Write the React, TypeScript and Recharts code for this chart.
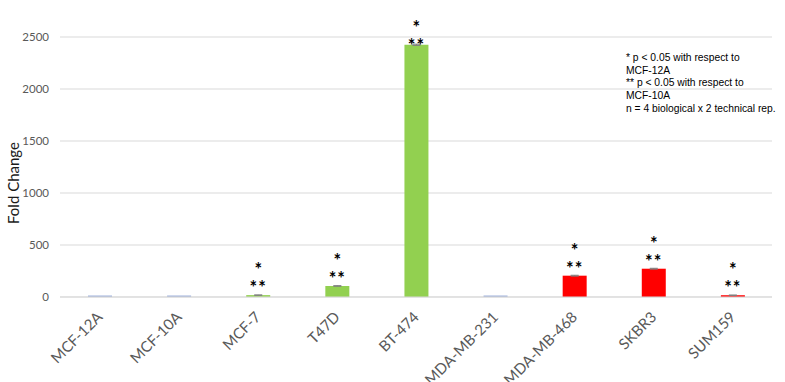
import React, { useLayoutEffect } from 'react';
import { BarChart, Bar, XAxis, YAxis, CartesianGrid, Cell, ErrorBar, LabelList, Label } from 'recharts';

const cellLines = ['MCF-12A', 'MCF-10A', 'MCF-7', 'T47D', 'BT-474', 'MDA-MB-231', 'MDA-MB-468', 'SKBR3', 'SUM159'];
const foldChange = [1, 1, 18, 106, 2425, 2, 205, 272, 17];
const errors = [0, 0, 2, 3, 6, 0, 4, 4, 2];
const groups = ['normal', 'normal', 'luminal', 'luminal', 'luminal', 'basal', 'basal', 'basal', 'basal'];
const sigVsMCF12A = [false, false, true, true, true, false, true, true, true];
const sigVsMCF10A = [false, false, true, true, true, false, true, true, true];
const yTicks = [0, 500, 1000, 1500, 2000, 2500];
const noteLines = [
  '* p < 0.05 with respect to',
  'MCF-12A',
  '** p < 0.05 with respect to',
  'MCF-10A',
  'n = 4 biological x 2 technical rep.',
];

const colorFor = (g: string, i: number) => {
  if (g === 'luminal') return '#92D050';
  if (g === 'basal' && foldChange[i] > 10) return '#FF0000';
  return '#9FB1DB';
};

const data = cellLines.map((name, i) => ({
  name,
  value: foldChange[i],
  err: errors[i],
  one: sigVsMCF12A[i],
  two: sigVsMCF10A[i],
}));

const PLOT_TOP = 37;

const XTick = (props: any) => {
  const { x, y, payload } = props;
  const ax = x + 4;
  const ay = y + 13;
  return (
    <text x={ax} y={ay} transform={`rotate(-45, ${ax}, ${ay})`} textAnchor="end"
      fill="#595959" fontSize={15} fontFamily="Lato">
      {payload.value}
    </text>
  );
};

// "*" over "**" as one text block, kept inside the plot area
const Stars = (props: any) => {
  const { x, y, width, index } = props;
  const d = data[index];
  if (!d.one && !d.two) return null;
  const cx = x + width / 2;
  const c2 = Math.max(y - 11, PLOT_TOP + 5);
  const c1 = c2 - 18;
  return (
    <text textAnchor="middle" fill="#000000" fontFamily="Lato" fontWeight="bold" fontSize={18}>
      {d.one && <tspan x={cx} y={c1 + 10}>*</tspan>}
      {d.two && <tspan x={cx} y={c2 + 10} letterSpacing={1}>**</tspan>}
    </text>
  );
};

export default function App() {
  useLayoutEffect(() => {
    document.body.style.margin = '0';
  }, []);
  return (
    <div style={{ position: 'relative', width: 785, height: 382, background: '#fff' }}>
      <BarChart width={785} height={382} data={data}
        margin={{ top: PLOT_TOP, right: 13, left: 0, bottom: 0 }}>
        <CartesianGrid vertical={false} stroke="#D9D9D9" />
        <XAxis dataKey="name" interval={0} tickLine={false} axisLine={{ stroke: '#D9D9D9' }}
          tick={<XTick />} height={85} />
        <YAxis width={60} domain={[0, 2500]} ticks={yTicks} tickLine={false} axisLine={false}
          tickMargin={5} tick={{ fill: '#595959', fontSize: 11.5, fontFamily: 'Lato' }}>
          <Label content={() => (
            <text x={19} y={183} transform="rotate(-90, 19, 183)" textAnchor="middle"
              fill="#1a1a1a" fontSize={15} fontFamily="Lato">Fold Change</text>
          )} />
        </YAxis>
        <Bar dataKey="value" barSize={24} minPointSize={1.5} isAnimationActive={false}>
          {data.map((d, i) => (
            <Cell key={d.name} fill={colorFor(groups[i], i)} />
          ))}
          <ErrorBar dataKey="err" width={4} stroke="#7F7F7F" strokeWidth={1} direction="y" />
          <LabelList dataKey="value" content={<Stars />} />
        </Bar>
      </BarChart>
      <div style={{
        position: 'absolute', left: 626, top: 52, fontFamily: '"Liberation Sans", Arial',
        fontSize: 10.3, lineHeight: '12.7px', color: '#000', whiteSpace: 'nowrap',
      }}>
        {noteLines.map((t) => <div key={t}>{t}</div>)}
      </div>
    </div>
  );
}
